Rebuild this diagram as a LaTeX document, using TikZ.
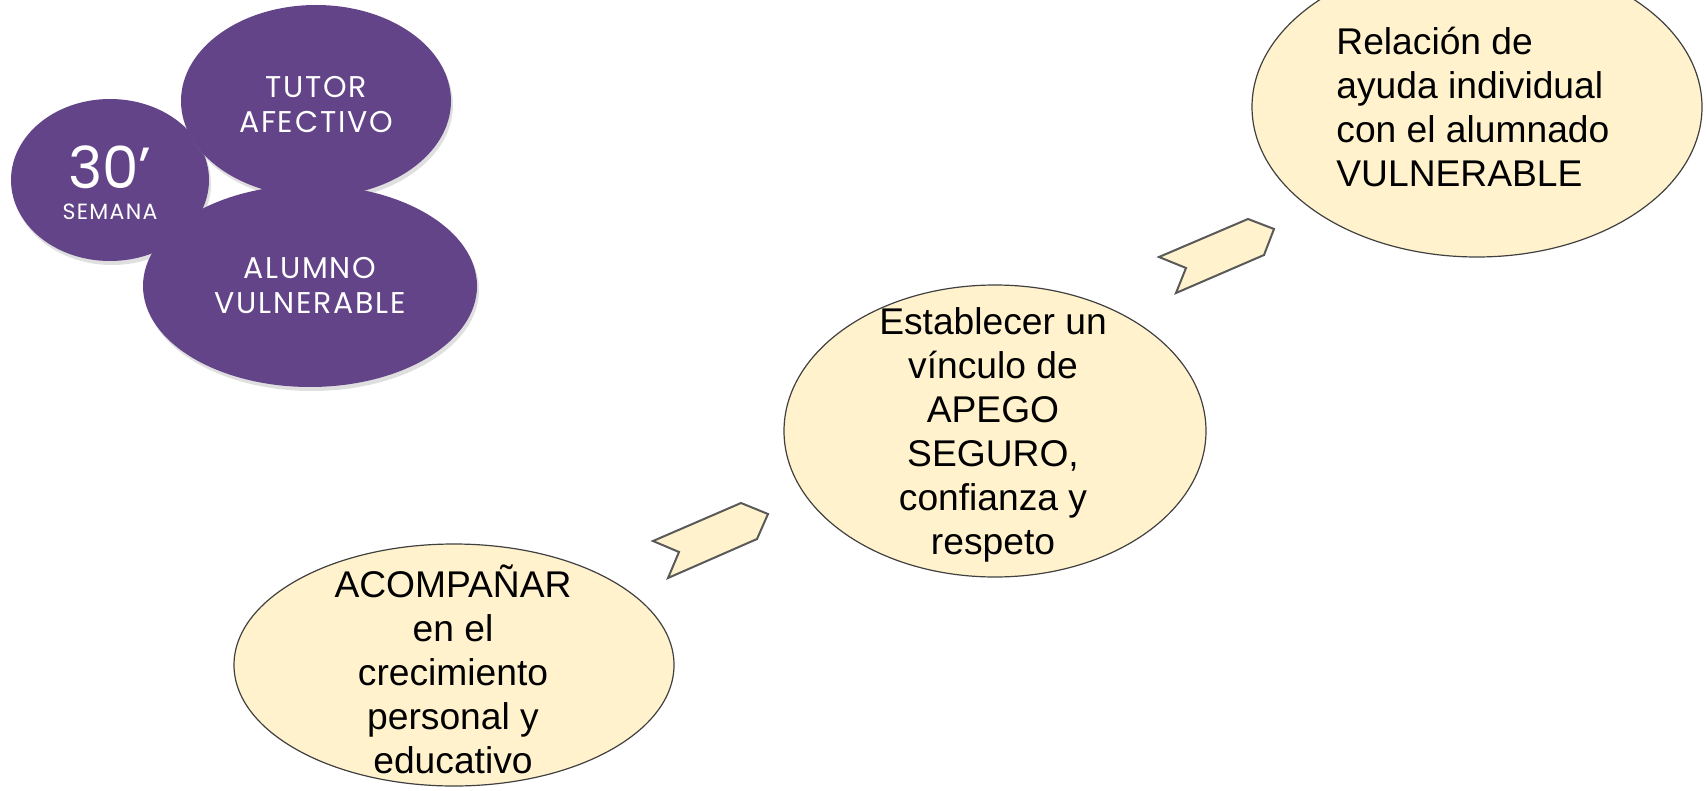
\documentclass[tikz,border=0pt]{standalone}
\usepackage{fontspec}
\setmainfont{Liberation Sans}
\newfontfamily\purplefont[LetterSpace=6]{Poppins}
\newfontfamily\purplefontnum{Poppins}
\usetikzlibrary{shapes.geometric,shadows}
\definecolor{purp}{HTML}{634488}
\definecolor{cream}{HTML}{FFF2CC}
\definecolor{edgegray}{HTML}{404040}
\definecolor{chevgray}{HTML}{595959}
\begin{document}
\begin{tikzpicture}[x=0.5pt,y=-0.5pt,
  purpleball/.style={ellipse, fill=purp, draw=none, inner sep=0,
    drop shadow={shadow xshift=1pt,shadow yshift=-2pt,opacity=0.25}},
  purpletext/.style={align=center, text=white, inner sep=0, font=\purplefont\fontsize{15}{17.5}\selectfont},
  creamball/.style={ellipse, fill=cream, draw=edgegray, line width=0.6pt, inner sep=0},
  creamtext/.style={align=center, font=\fontsize{18.6}{22}\selectfont, text=black, inner sep=0},
  chevron/.style={fill=cream, draw=chevgray, line width=1pt, line join=miter}]
\useasboundingbox (0,0) rectangle (1706,791);
\clip (0,0) rectangle (1706,791);

% purple group
\node[purpleball, minimum width=99pt, minimum height=81pt] (semana) at (110,180) {};
\node[purpleball, minimum width=135pt, minimum height=96pt] (tutor) at (316,101) {};
\node[purpleball, minimum width=167pt, minimum height=101pt] (alumno) at (310,286) {};
\node[purpletext, font=\purplefontnum\fontsize{29}{30}\selectfont] (treinta) at (110,167) {30’};
\node[purpletext, font=\purplefont\fontsize{11}{12}\selectfont] (semanat) at (110,212) {SEMANA};
\node[purpletext] (tutort) at (316,105) {TUTOR\\AFECTIVO};
\node[purpletext] (alumnot) at (310,286) {ALUMNO\\VULNERABLE};

% cream ellipses
\node[creamball, minimum width=220pt, minimum height=121pt] (acomp) at (454,665) {};
\node[creamball, minimum width=211pt, minimum height=146pt] (vinculo) at (995,431) {};
\node[creamball, minimum width=225pt, minimum height=150pt] (relacion) at (1477,107) {};

\node[creamtext] (acompt) at (453,669) {ACOMPAÑAR\\en el\\crecimiento\\personal y\\educativo};
\node[creamtext] (vinculot) at (993,435) {Establecer un\\vínculo de\\APEGO\\SEGURO,\\confianza y\\respeto};
\node[creamtext, align=left, anchor=west] (relaciont) at (1336,107) {Relación de\\ayuda individual\\con el alumnado\\VULNERABLE};

% chevron arrows
\draw[chevron] (653,541) -- (741,503) -- (768,514) -- (757,539) -- (668,578) -- (679,552) -- cycle;
\draw[chevron] (1159,257) -- (1248,219) -- (1274,229) -- (1264,255) -- (1176,293) -- (1186,268) -- cycle;
\end{tikzpicture}
\end{document}
